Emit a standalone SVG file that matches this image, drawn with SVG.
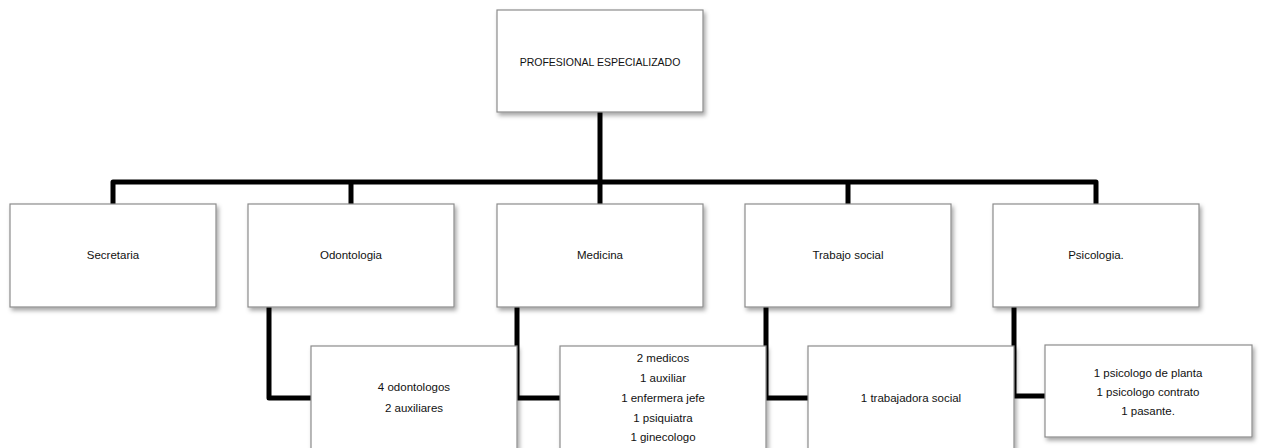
<svg xmlns="http://www.w3.org/2000/svg" width="1261" height="448" viewBox="0 0 1261 448">
<defs>
<filter id="sh" x="-10%" y="-10%" width="125%" height="130%">
<feDropShadow dx="2" dy="3" stdDeviation="2" flood-color="#000" flood-opacity="0.35"/>
</filter>
<style>
.box{fill:#fff;stroke:#8c8c8c;stroke-width:1.2;filter:url(#sh)}
.t{font-family:"Liberation Sans",Arial,sans-serif;font-size:11.5px;fill:#111;text-anchor:middle;dominant-baseline:central}
.c{fill:none;stroke:#000;stroke-width:5;stroke-linejoin:round;stroke-linecap:butt}
</style>
</defs>
<rect width="1261" height="448" fill="#fff"/>
<g id="connectors">
<path class="c" d="M600,112 V204"/>
<path class="c" d="M113,204 V182 H1096 V204"/>
<path class="c" d="M351,182 V204"/>
<path class="c" d="M848,182 V204"/>
<path class="c" d="M269,307 V398 H311"/>
<path class="c" d="M517,307 V398 H560"/>
<path class="c" d="M766,307 V398 H808"/>
<path class="c" d="M1014,307 V396 H1045"/>
</g>
<g id="profesional">
<rect class="box" x="497" y="10" width="206" height="102"/>
<text class="t" x="600" y="62" style="font-size:10.5px">PROFESIONAL ESPECIALIZADO</text>
</g>
<g id="secretaria">
<rect class="box" x="10" y="204" width="206" height="103"/>
<text class="t" x="113" y="255">Secretaria</text>
</g>
<g id="odontologia">
<rect class="box" x="248" y="204" width="206" height="103"/>
<text class="t" x="351" y="255">Odontologia</text>
</g>
<g id="medicina">
<rect class="box" x="497" y="204" width="206" height="103"/>
<text class="t" x="600" y="255">Medicina</text>
</g>
<g id="trabajo-social">
<rect class="box" x="745" y="204" width="206" height="103"/>
<text class="t" x="848" y="255">Trabajo social</text>
</g>
<g id="psicologia">
<rect class="box" x="993" y="204" width="206" height="103"/>
<text class="t" x="1096" y="255">Psicologia.</text>
</g>
<g id="odontologos">
<rect class="box" x="311" y="346" width="206" height="115"/>
<text class="t" x="414" y="387">4 odontologos</text>
<text class="t" x="414" y="408">2 auxiliares</text>
</g>
<g id="medicos">
<rect class="box" x="560" y="346" width="206" height="115"/>
<text class="t" x="663" y="358">2 medicos</text>
<text class="t" x="663" y="378">1 auxiliar</text>
<text class="t" x="663" y="398">1 enfermera  jefe</text>
<text class="t" x="663" y="418">1 psiquiatra</text>
<text class="t" x="663" y="437">1 ginecologo</text>
</g>
<g id="trabajadora">
<rect class="box" x="808" y="346" width="206" height="115"/>
<text class="t" x="911" y="398">1 trabajadora social</text>
</g>
<g id="psicologos">
<rect class="box" x="1045" y="345" width="207" height="92"/>
<text class="t" x="1148" y="373">1 psicologo de planta</text>
<text class="t" x="1148" y="392">1 psicologo contrato</text>
<text class="t" x="1148" y="411">1 pasante.</text>
</g>
</svg>
